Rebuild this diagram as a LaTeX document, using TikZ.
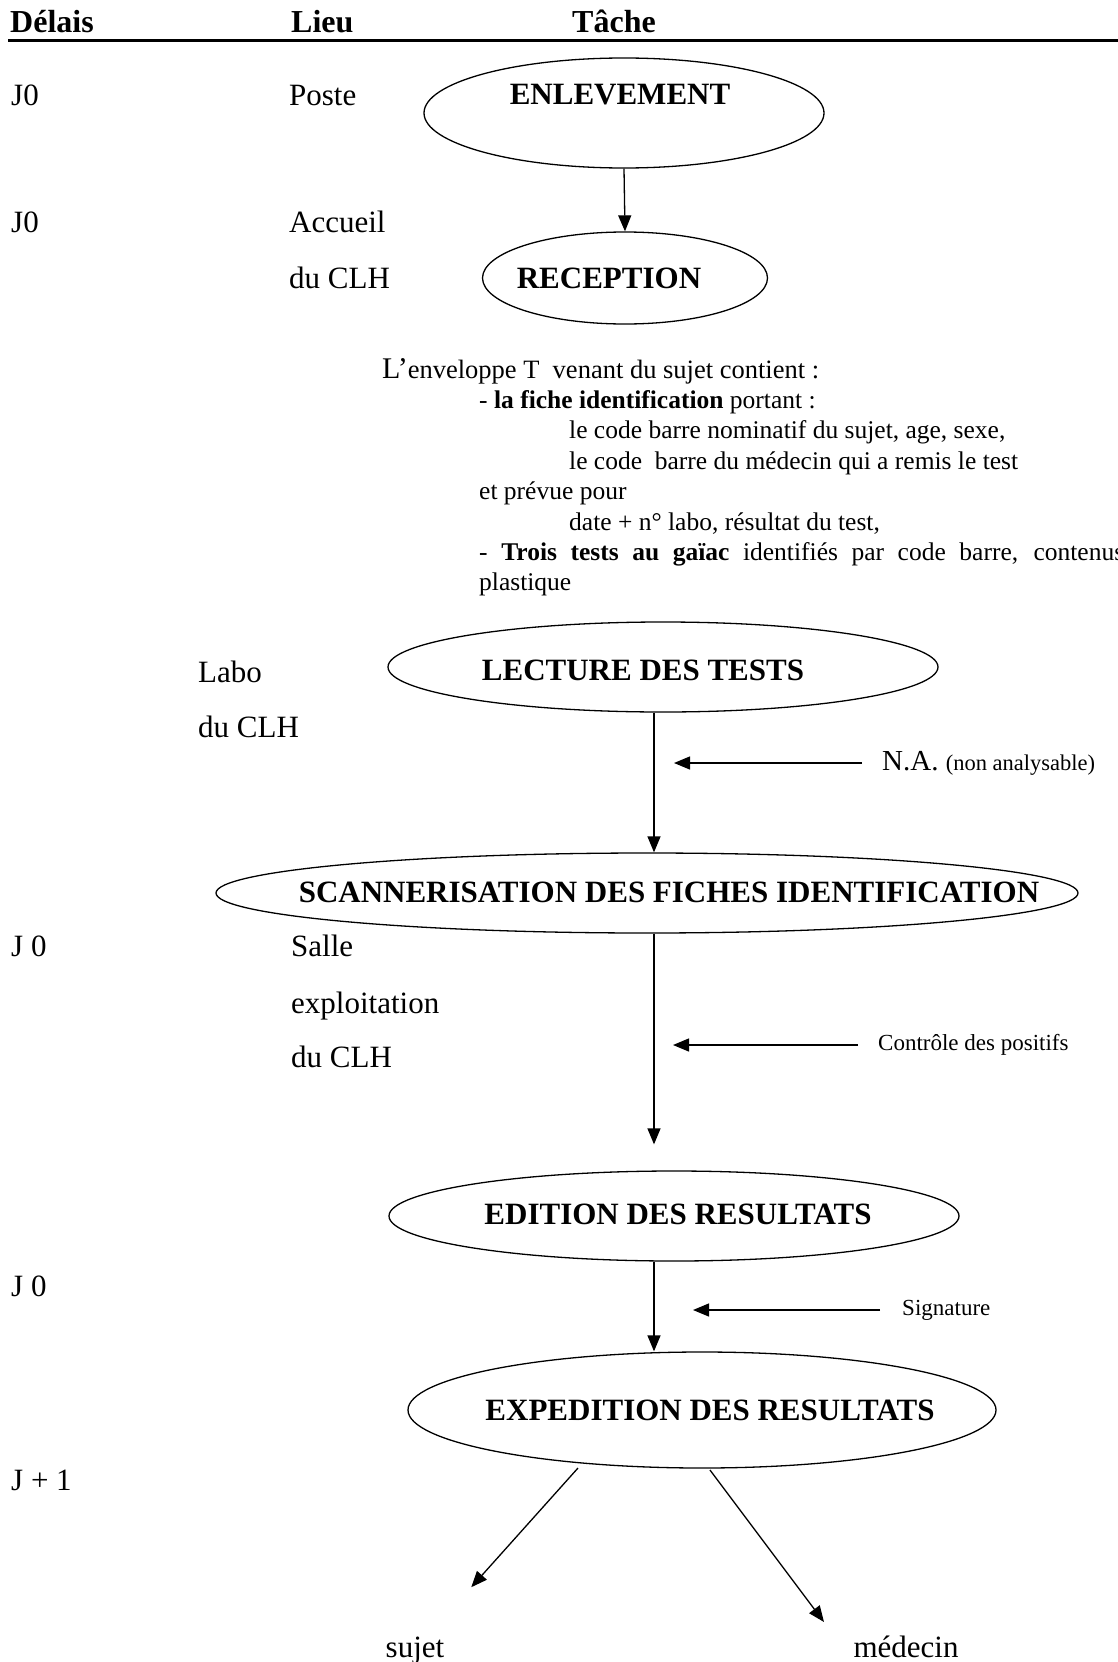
\documentclass[tikz,border=0pt]{standalone}
\usepackage{fontspec}
\setmainfont{Liberation Serif}
\usetikzlibrary{arrows.meta,shapes.geometric,calc}
\newcommand\myfs[1]{\fontsize{#1}{#1}\selectfont}
\begin{document}
\begin{tikzpicture}[x=1pt,y=-1pt,
  lab/.style={anchor=base west, inner sep=0pt, font=\myfs{31}},
  hdr/.style={anchor=base west, inner sep=0pt, font=\myfs{32}\bfseries},
  oval/.style={draw, ellipse, line width=1.3pt, inner sep=0pt},
  otext/.style={inner sep=0pt, font=\myfs{31}\bfseries},
  para/.style={anchor=base west, inner sep=0pt, font=\myfs{25.5}},
  side/.style={anchor=west, inner sep=0pt, font=\myfs{23}},
  arr/.style={line width=1.3pt, -{Triangle[length=16pt,width=13pt]}},
]
\fill[white] (0,0) rectangle (1118,1662);
\useasboundingbox (0,0) rectangle (1118,1662);

% header
\node[hdr] (hd) at (10,33) {Délais};
\node[hdr] (hl) at (291,33) {Lieu};
\node[hdr] (ht) at (572,33) {Tâche};
\draw[line width=3pt] (8,41) -- (1118,41);

% left columns
\node[lab] (d1) at (11,105) {J0};
\node[lab] (l1) at (289,105) {Poste};
\node[lab] (d2) at (11,232) {J0};
\node[lab] (l2a) at (289,232) {Accueil};
\node[lab] (l2b) at (289,288) {du CLH};
\node[lab] (l3a) at (198,682) {Labo};
\node[lab] (l3b) at (198,737) {du CLH};
\node[lab] (d4) at (11,956) {J 0};
\node[lab] (l4a) at (291,956) {Salle};
\node[lab] (l4b) at (291,1013) {exploitation};
\node[lab] (l4c) at (291,1067) {du CLH};
\node[lab] (d5) at (11,1296) {J 0};
\node[lab] (d6) at (11,1490) {J + 1};

% ellipses
\node[oval, minimum width=400pt, minimum height=110pt] (e1) at (624,113) {};
\node[otext] (t1) at (620,95) {ENLEVEMENT};
\node[oval, minimum width=285pt, minimum height=92pt] (e2) at (625,278) {};
\node[otext] (t2) at (609,278) {RECEPTION};
\node[oval, minimum width=550pt, minimum height=90pt] (e3) at (663,667) {};
\node[otext] (t3) at (643,670) {LECTURE DES TESTS};
\node[oval, minimum width=862pt, minimum height=80pt] (e4) at (647,893) {};
\node[otext] (t4) at (669,892) {SCANNERISATION DES FICHES IDENTIFICATION};
\node[oval, minimum width=570pt, minimum height=90pt] (e5) at (674,1216) {};
\node[otext] (t5) at (678,1214) {EDITION DES RESULTATS};
\node[oval, minimum width=588pt, minimum height=116pt] (e6) at (702,1410) {};
\node[otext] (t6) at (710,1410) {EXPEDITION DES RESULTATS};

% paragraph
\node[para, font=\myfs{26.5}] (p1) at (382,378) {{\myfs{30}L’}enveloppe T\ \ venant du sujet contient :};
\node[para] (p2) at (479,408.4) {- \textbf{la fiche identification} portant :};
\node[para] (p3) at (569,438.8) {le code barre nominatif du sujet, age, sexe,};
\node[para] (p4) at (569,469.2) {le code\ \ barre du médecin qui a remis le test};
\node[para] (p5) at (479,499.6) {et prévue pour};
\node[para] (p6) at (569,530) {date + n° labo, résultat du test,};
\node[para] (p7) at (479,560.4) {\makebox[645pt][s]{- \textbf{Trois tests au gaïac} identifiés par code barre, contenus}};
\node[para] (p8) at (479,590.8) {plastique};

% spine
\coordinate (sp) at (654,0);

% main arrows
\draw[arr] (e1.south) -- (e2.north);
\draw[arr] (e3.south -| sp) -- (e4.north -| sp);
\draw[arr, shorten >=26pt] (e4.south -| sp) -- (e5.north -| sp);
\draw[arr] (e5.south -| sp) -- (e6.north -| sp);

% side inputs
\node[side, font=\myfs{29}] (na) at (882,763) {N.A. {\myfs{22.5}(non analysable)}};
\draw[arr] ([xshift=-20pt]na.west) -- ([xshift=20pt]na.west -| sp);
\node[side] (cp) at (878,1045) {Contrôle des positifs};
\draw[arr] ([xshift=-20pt]cp.west) -- ([xshift=19pt]cp.west -| sp);
\node[side] (sg) at (902,1310) {Signature};
\draw[arr] ([xshift=-22pt]sg.west) -- ([xshift=39pt]sg.west -| sp);

% outputs
\node[anchor=base, inner sep=0pt, font=\myfs{31}] (sj) at (415,1657) {sujet};
\node[anchor=base, inner sep=0pt, font=\myfs{31}] (md) at (906,1657) {médecin};
\coordinate (s1) at (578,1468);
\coordinate (s2) at (710,1470);
\coordinate (k2) at (824,1622);
\draw[arr] (s1) -- ($(s1)!160pt!(sj)$);
\draw[arr] (s2) -- (k2);
\end{tikzpicture}
\end{document}
